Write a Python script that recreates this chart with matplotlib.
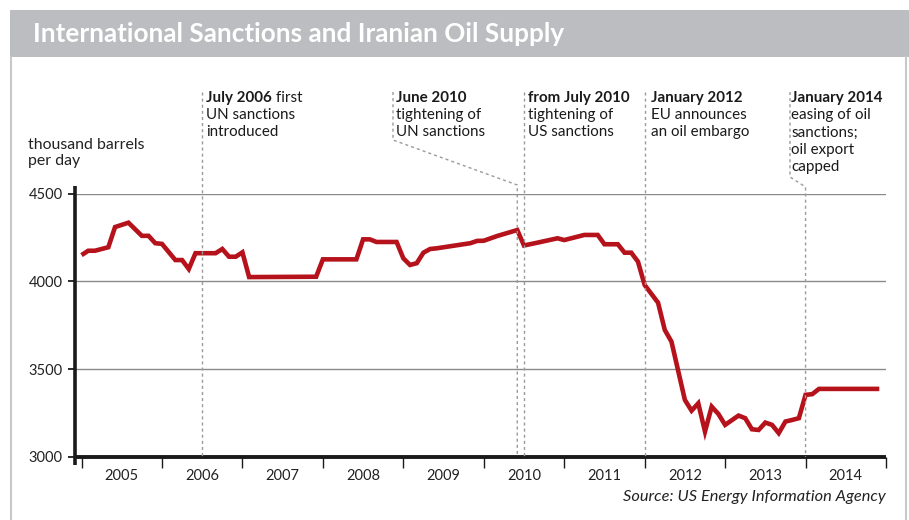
import matplotlib
matplotlib.use("Agg")
import matplotlib.pyplot as plt
from matplotlib.lines import Line2D
from matplotlib.patches import Rectangle

# ---------------- data ----------------
dates = ["2005-01", "2005-02", "2005-03", "2005-05", "2005-06", "2005-08", "2005-10",
         "2005-11", "2005-12", "2006-01", "2006-03", "2006-04", "2006-05", "2006-06",
         "2006-09", "2006-10", "2006-11", "2006-12", "2007-01", "2007-02", "2007-12",
         "2008-01", "2008-06", "2008-07", "2008-08", "2008-09", "2008-12", "2009-01",
         "2009-02", "2009-03", "2009-04", "2009-05", "2009-06", "2009-11", "2009-12",
         "2010-01", "2010-03", "2010-06", "2010-07", "2010-09", "2010-12", "2011-01",
         "2011-04", "2011-06", "2011-07", "2011-09", "2011-10", "2011-11", "2011-12",
         "2012-01", "2012-03", "2012-04", "2012-05", "2012-07", "2012-08", "2012-09",
         "2012-10", "2012-11", "2012-12", "2013-01", "2013-03", "2013-04", "2013-05",
         "2013-06", "2013-07", "2013-08", "2013-09", "2013-10", "2013-11", "2013-12",
         "2014-01", "2014-02", "2014-03", "2014-12"]
supply = [4150, 4175, 4175, 4195, 4310, 4335, 4260, 4260, 4218, 4214, 4122, 4122,
          4071, 4161, 4161, 4185, 4141, 4141, 4166, 4025, 4027, 4126, 4126, 4240,
          4240, 4225, 4225, 4132, 4094, 4104, 4164, 4185, 4189, 4218, 4231, 4232,
          4259, 4293, 4205, 4221, 4246, 4236, 4265, 4265, 4212, 4212, 4164, 4164,
          4113, 3980, 3879, 3724, 3657, 3325, 3264, 3306, 3145, 3287, 3245, 3183,
          3236, 3221, 3158, 3154, 3196, 3183, 3136, 3202, 3211, 3221, 3354, 3358,
          3388, 3388]

years = [2005, 2006, 2007, 2008, 2009, 2010, 2011, 2012, 2013, 2014]
y_ticks = [3000, 3500, 4000, 4500]

event_dates = ["2006-07", "2010-06", "2010-07", "2012-01", "2014-01"]
event_bold = ["July 2006", "June 2010", "from July 2010", "January 2012", "January 2014"]
event_bold_tail = [" first", "", "", "", ""]
event_lines = [["UN sanctions", "introduced"],
               ["tightening of", "UN sanctions"],
               ["tightening of", "US sanctions"],
               ["EU announces", "an oil embargo"],
               ["easing of oil", "sanctions;", "oil export", "capped"]]

title = "International Sanctions and Iranian Oil Supply"
unit_label = "thousand barrels\nper day"
source = "Source: US Energy Information Agency"


def to_year(s):
    y, m = s.split("-")
    return int(y) + (int(m) - 1) / 12.0


xs = [to_year(d) for d in dates]

# ---------------- figure ----------------
W, H = 909, 520
fig = plt.figure(figsize=(W / 100, H / 100), dpi=100)
fig.patch.set_facecolor("white")

FONT = ["Lato", "DejaVu Sans"]
TITLE_FONT = ["Liberation Sans Narrow", "Lato", "DejaVu Sans"]
RED = "#B5121B"
GRID = "#8a8a8a"
DASH = "#9a9a9a"


def fx(px):
    return px / W


def fy(py):
    return 1 - py / H


# frame and title bar
fig.add_artist(Rectangle((fx(10), fy(57)), 1 - fx(10), fy(10) - fy(57),
                         transform=fig.transFigure, facecolor="#bcbdc0",
                         edgecolor="none", zorder=0))
fig.add_artist(Line2D([fx(11), fx(11)], [0, fy(57)], transform=fig.transFigure,
                      color="#c8c8c8", lw=1.5))
fig.add_artist(Line2D([fx(906), fx(906)], [0, fy(57)], transform=fig.transFigure,
                      color="#c8c8c8", lw=1.5))
fig.text(fx(33), fy(34), title, family=TITLE_FONT, weight="bold", color="white",
         fontsize=18.8, va="center", ha="left")

# axes
x0, x1 = 2004.919, 2014.994
ax = fig.add_axes([fx(75), fy(457), fx(886) - fx(75), fy(193.7) - fy(457)])
ax.set_xlim(x0, x1)
ax.set_ylim(3000, 4500)
ax.patch.set_alpha(0)
for sp in ax.spines.values():
    sp.set_visible(False)

for v in y_ticks[1:]:
    ax.axhline(v, color=GRID, lw=1, zorder=1)

# axis lines
ax.plot([x0, x0], [2955, 4545], color="#1a1a1a", lw=2.6, clip_on=False,
        solid_capstyle="butt", zorder=4)
ax.plot([x0, x1], [3000, 3000], color="#1a1a1a", lw=2.8, clip_on=False,
        solid_capstyle="butt", zorder=4)

ax.set_yticks(y_ticks)
ax.set_yticklabels([str(v) for v in y_ticks], family=FONT, fontsize=10.5,
                   color="#222222")
ax.tick_params(axis="y", direction="out", length=5, width=1.3, pad=4,
               color="#1a1a1a")
ax.set_xticks([y for y in years] + [years[-1] + 1])
ax.set_xticklabels([])
ax.tick_params(axis="x", direction="out", length=8, width=1, color="#1a1a1a")
ax.set_xticks([y + 0.5 for y in years], minor=True)
ax.set_xticklabels([str(y) for y in years], minor=True, family=FONT,
                   fontsize=10.5, color="#222222")
ax.tick_params(axis="x", which="minor", length=0, pad=9)

# data line
ax.plot(xs, supply, color=RED, lw=3.3, solid_joinstyle="miter",
        solid_capstyle="butt", zorder=5)

# unit label and source
fig.text(fx(28), fy(153), unit_label, family=FONT, fontsize=11.4, color="#222222",
         va="center", ha="left", linespacing=1.15)
fig.text(fx(886), fy(497), source, family=FONT, style="italic", fontsize=11.8,
         color="#222222", va="center", ha="right")

# event annotations
fig.canvas.draw()
renderer = fig.canvas.get_renderer()
text_x = [205, 395, 527, 650, 790]
line_top = 92
line_step = 17.2
AFS = 10.9


def data_px(xv):
    return ax.transData.transform((xv, 3000))[0]


for i, d in enumerate(event_dates):
    ex = data_px(to_year(d))
    tx = text_x[i]
    # dashed connector
    if i == 1:
        pts = [(tx - 2, line_top), (tx - 2, 140), (ex, 185), (ex, 457)]
    elif i == 4:
        pts = [(tx, line_top), (tx, 177), (ex, 187), (ex, 457)]
    else:
        pts = [(ex, line_top), (ex, 457)]
    fig.add_artist(Line2D([fx(p[0]) for p in pts], [fy(p[1]) for p in pts],
                          transform=fig.transFigure, color=DASH, lw=1,
                          linestyle=(0, (2.2, 2.2)), zorder=2))
    t = fig.text(fx(tx + 1), fy(line_top + 6), event_bold[i], family=FONT,
                 weight="bold", fontsize=AFS, color="#1a1a1a", va="center",
                 ha="left")
    if event_bold_tail[i]:
        bb = t.get_window_extent(renderer)
        fig.text(bb.x1 / W, fy(line_top + 6), event_bold_tail[i], family=FONT,
                 fontsize=AFS, color="#1a1a1a", va="center", ha="left")
    for j, s in enumerate(event_lines[i]):
        fig.text(fx(tx + 1), fy(line_top + 6 + (j + 1) * line_step), s,
                 family=FONT, fontsize=AFS, color="#1a1a1a", va="center",
                 ha="left")

fig.savefig("out.png", dpi=100)
